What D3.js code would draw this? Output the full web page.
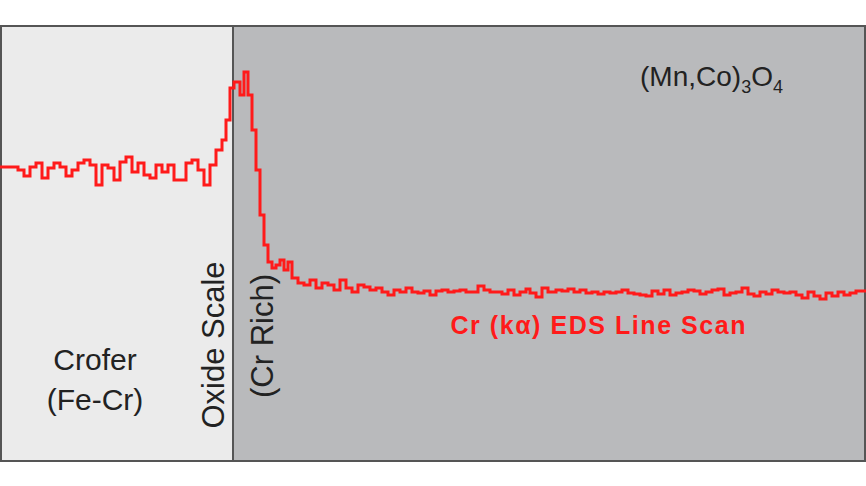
<!DOCTYPE html><html><head><script src="https://cdn.jsdelivr.net/npm/d3@7"></script>
<style>body{margin:0;background:#fff}</style></head><body><svg id="c" width="866" height="486"></svg>
<script>
const leftPos=[0,6,12,18,24,30,36,42,48,54,60,66,72,78,84,90,96,102,108,114,120,126,132,138,144,150,156,162,168,174,180,186,192,198,204,210,216,222,226,230];
const leftVal=[167,167,167,170,176,167,163,178,168,163,167,176,170,163,160,165,185,165,168,180,162,157,172,163,175,178,165,172,165,180,180,163,160,170,185,165,150,140,120,88];
const rightPos=[234,240,244,248,252,256,260,264,268,272,276,280,284,288,292,298,304,310,316,322,328,334,340,346,352,358,364,370,376,382,388,394,400,406,412,418,424,430,436,442,448,454,460,466,472,478,484,490,496,502,508,514,520,526,530,536,542,548,556,562,568,574,580,586,592,598,604,610,616,622,628,634,640,646,652,658,664,670,676,682,688,694,700,706,712,718,724,730,736,742,748,754,760,766,772,778,784,790,796,802,808,814,820,826,832,838,844,850,856,866];
const rightVal=[82,95,72,95,130,170,215,245,262,268,265,260,270,262,278,283,285,280,288,283,285,290,280,288,292,285,287,290,288,292,295,290,292,288,292,293,291,295,291,290,292,291,290,292,292,286,290,292,292,294,290,295,292,289,293,297,288,292,290,291,289,292,290,293,292,294,292,293,292,290,293,294,295,296,291,294,290,295,293,292,290,291,294,292,290,289,295,293,292,288,294,296,292,294,290,292,293,292,295,298,292,296,299,293,296,292,295,293,291,291];
const positions=leftPos.concat(rightPos), depthY=leftVal.concat(rightVal);
const svg=d3.select("#c");
const x=d3.scaleLinear().domain([0,866]).range([0,866]);
const y=d3.scaleLinear().domain([25,462]).range([25,462]);
svg.append("rect").attr("x",1).attr("y",26).attr("width",864).attr("height",435).attr("fill","#b9babc").attr("stroke","#555").attr("stroke-width",2);
svg.append("rect").attr("x",2).attr("y",27).attr("width",x(232)-2).attr("height",433).attr("fill","#ebebeb");
svg.append("line").attr("x1",x(233)).attr("x2",x(233)).attr("y1",26).attr("y2",461).attr("stroke","#555").attr("stroke-width",2);
const data=positions.map((p,i)=>[p,depthY[i]]);
svg.append("path").datum(data).attr("fill","none").attr("stroke","#ff1a1a").attr("stroke-width",3)
 .attr("d",d3.line().x(d=>x(d[0])).y(d=>y(d[1])).curve(d3.curveStepAfter));
const f="Liberation Sans, Arial, sans-serif";
const t=svg.append("text").attr("x",640).attr("y",86).attr("font-family",f).attr("font-size",28).attr("fill","#222");
t.append("tspan").text("(Mn,Co)");t.append("tspan").attr("font-size",18).attr("dy",7).text("3");
t.append("tspan").attr("dy",-7).text("O");t.append("tspan").attr("font-size",18).attr("dy",7).text("4");
svg.append("text").attr("x",95).attr("y",370).attr("text-anchor","middle").attr("font-family",f).attr("font-size",30).attr("fill","#222").text("Crofer");
svg.append("text").attr("x",95).attr("y",410).attr("text-anchor","middle").attr("font-family",f).attr("font-size",30).attr("fill","#222").text("(Fe-Cr)");
svg.append("text").attr("transform","translate(224,345) rotate(-90)").attr("text-anchor","middle").attr("font-family",f).attr("font-size",31).attr("fill","#222").text("Oxide Scale");
svg.append("text").attr("transform","translate(273,336) rotate(-90)").attr("text-anchor","middle").attr("font-family",f).attr("font-size",31).attr("fill","#222").text("(Cr Rich)");
svg.append("text").attr("x",598).attr("y",334).attr("text-anchor","middle").attr("font-family",f).attr("font-size",25).attr("font-weight","bold").attr("fill","#ff1a1a").attr("textLength",295).text("Cr (kα) EDS Line Scan");
</script></body></html>
